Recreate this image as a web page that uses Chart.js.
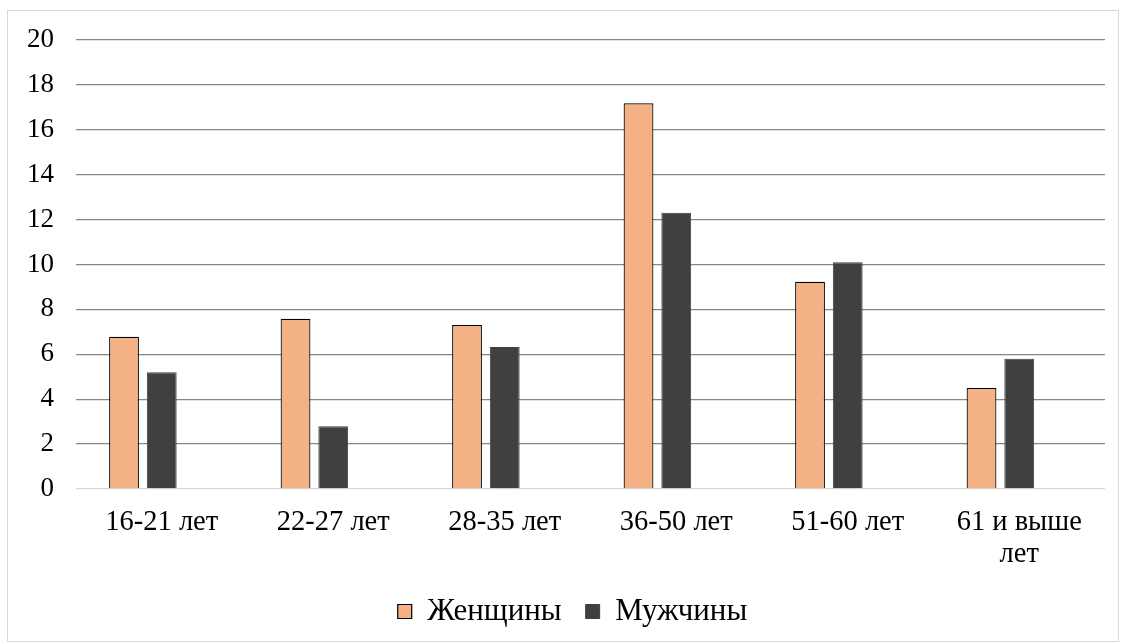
<!DOCTYPE html>
<html>
<head>
<meta charset="utf-8">
<script src="https://cdn.jsdelivr.net/npm/chart.js@4"></script>
<style>
body{margin:0;background:#fff;}
#box{position:absolute;left:7px;top:10px;width:1110px;height:630px;border:1px solid #d9d9d9;}
</style>
</head>
<body>
<div id="box"><canvas id="c" width="1110" height="630"></canvas></div>
<script>
// данные
const categories=["16-21 лет","22-27 лет","28-35 лет","36-50 лет","51-60 лет",["61 и выше","лет"]];
const women=[6.78,7.58,7.3,17.18,9.23,4.5];
const men=[5.2,2.8,6.33,12.3,10.1,5.8];
const spacer=[null,null,null,null,null,null]; // пустой ряд, как в Excel
const yTicks=[0,20,2];

const font="Liberation Serif, Times New Roman, serif";
Chart.defaults.font.family=font;
Chart.defaults.color="#000";

// легенда чуть правее центра, как в оригинале
const shiftLegend={
id:"shiftLegend",
afterLayout(chart){
chart.legend.left+=16;
chart.legend.right+=16;
chart.legend.top+=2;
chart.legend.bottom+=2;
}
};

new Chart(document.getElementById("c"),{
type:"bar",
data:{
labels:categories,
datasets:[
{label:"Женщины",data:women,backgroundColor:"#F4B183",borderColor:"#000",borderWidth:1.2},
{label:"Мужчины",data:men,backgroundColor:"#404040",borderColor:"#404040",borderWidth:1},
{label:"",data:spacer,backgroundColor:"rgba(0,0,0,0)"}
]
},
options:{
responsive:false,
animation:false,
categoryPercentage:0.66,
barPercentage:0.79,
layout:{padding:{top:29,right:13,left:0,bottom:6}},
plugins:{
tooltip:{enabled:false},
legend:{
position:"bottom",
labels:{
filter:item=>item.text!=="",
boxWidth:14,boxHeight:14,
font:{size:31,family:font},
color:"#000",
padding:24
}
}
},
scales:{
x:{
grid:{display:false},
border:{display:false},
ticks:{font:{size:28.5,family:font,lineHeight:1.1},color:"#000",padding:10,maxRotation:0},
afterFit:s=>{s.height=81;}
},
y:{
min:yTicks[0],max:yTicks[1],
ticks:{stepSize:yTicks[2],font:{size:27,family:font},color:"#000",padding:22},
grid:{drawTicks:false,color:c=>c.tick.value===0?"#d9d9d9":"#868686",lineWidth:1.3},
border:{display:false},
afterFit:s=>{s.width=68;s.paddingTop=0;s.paddingBottom=0;}
}
}
},
plugins:[shiftLegend]
});
</script>
</body>
</html>
